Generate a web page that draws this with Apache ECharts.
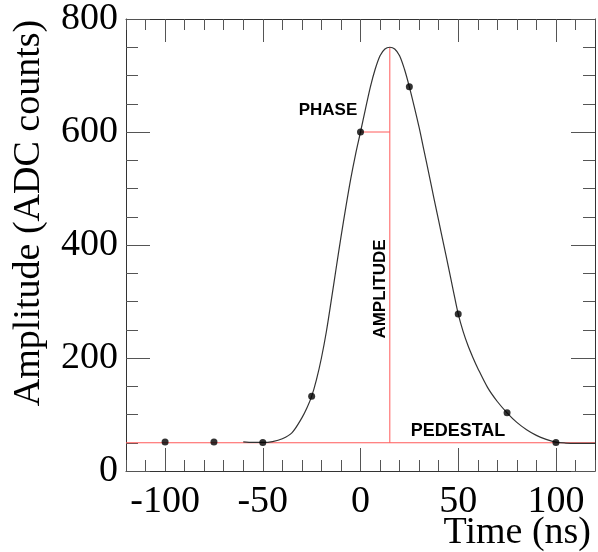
<!DOCTYPE html>
<html>
<head>
<meta charset="utf-8">
<script src="https://cdn.jsdelivr.net/npm/echarts@6/dist/echarts.min.js"></script>
<style>
html,body{margin:0;padding:0;background:#fff;}
#chart{width:598px;height:552px;}
</style>
</head>
<body>
<div id="chart"></div>
<script>
// ---- data ----
const xMajorTicks = [-100, -50, 0, 50, 100];
const xMinorTicks = [-120,-110,-100,-90,-80,-70,-60,-50,-40,-30,-20,-10,0,10,20,30,40,50,60,70,80,90,100,110,120];
const yMajorTicks = [0, 200, 400, 600, 800];
const yMinorTicks = [0,50,100,150,200,250,300,350,400,450,500,550,600,650,700,750,800];

const sampleTimes = [-100, -75, -50, -25, 0, 25, 50, 75, 100];
const sampleAmps  = [51.5, 51.5, 50.5, 132.5, 600, 680, 278, 103, 50.5];

const fitTimes = [-60,-55,-50,-45,-40,-35,-30,-27.5,-25,-22.5,-20,-17.5,-15,-12.5,-10,-7.5,-5,-2.5,0,2.5,5,7.5,10,12.5,15,17.5,20,22.5,25,27.5,30,32.5,35,37.5,40,42.5,45,47.5,50,52.5,55,57.5,60,65,70,75,80,85,90,95,100,105,110,120];
const fitAmps  = [51.5,50.5,50.5,52,57,68,94,111,132,162,200,246,301,358,414,467,517,561,600,640,679,711,735,747,750,747,735,711,680,645,608,567,526,484,443,402,361,319,278,247,222,201,182,148,123,103,86,73,63,56,51,49.5,49,49];

const pedestal = 50;
const peakTime = 15;
const peakAmp = 750;
const phaseTime = 0;
const phaseAmp = 600;

const xMin = -120, xMax = 120, yMin = 0, yMax = 800;

// ---- chart ----
const chart = echarts.init(document.getElementById('chart'));
const frameColor = '#333';
const tickColor = '#555';
const serif = 'Liberation Serif, Times New Roman, serif';
const sans = 'Liberation Sans, Arial, Helvetica, sans-serif';

function xAx(pos, ticks, len, showLine, showLabel) {
  return {
    type: 'value', position: pos, min: xMin, max: xMax,
    axisLine: {show: showLine, onZero: false, lineStyle: {color: frameColor, width: 1}},
    axisTick: {show: true, inside: true, length: len, customValues: ticks, lineStyle: {color: tickColor, width: 1}},
    axisLabel: showLabel ? {show: true, customValues: xMajorTicks, fontFamily: serif, fontSize: 38, color: '#000', margin: 12} : {show: false},
    splitLine: {show: false}
  };
}
function yAx(pos, ticks, len, showLine, showLabel) {
  return {
    type: 'value', position: pos, min: yMin, max: yMax,
    axisLine: {show: showLine, onZero: false, lineStyle: {color: frameColor, width: 1}},
    axisTick: {show: true, inside: true, length: len, customValues: ticks, lineStyle: {color: tickColor, width: 1}},
    axisLabel: showLabel ? {show: true, customValues: yMajorTicks, fontFamily: serif, fontSize: 38, color: '#000', margin: 8, padding: [12, 0, 0, 0]} : {show: false},
    splitLine: {show: false}
  };
}

const option = {
  backgroundColor: '#fff',
  animation: false,
  grid: {left: 126, top: 16, right: 3, bottom: 81, containLabel: false},
  xAxis: [
    xAx('bottom', xMajorTicks, 23, true, true),
    xAx('bottom', xMinorTicks, 11, false, false),
    xAx('top', xMajorTicks, 23, true, false),
    xAx('top', xMinorTicks, 11, false, false)
  ],
  yAxis: [
    yAx('left', yMajorTicks, 24, true, true),
    yAx('left', yMinorTicks, 12, false, false),
    yAx('right', yMajorTicks, 24, true, false),
    yAx('right', yMinorTicks, 12, false, false)
  ],
  series: [
    {
      type: 'line', name: 'pedestal', symbol: 'none', z: 2,
      data: [[xMin, pedestal], [xMax, pedestal]],
      lineStyle: {color: '#ff5a5a', width: 1}
    },
    {
      type: 'line', name: 'amplitude', symbol: 'none', z: 2,
      data: [[peakTime, pedestal], [peakTime, peakAmp]],
      lineStyle: {color: '#ff5a5a', width: 1}
    },
    {
      type: 'line', name: 'phase', symbol: 'none', z: 2,
      data: [[phaseTime, phaseAmp], [peakTime, phaseAmp]],
      lineStyle: {color: '#ff5a5a', width: 1}
    },
    {
      type: 'line', name: 'fit', symbol: 'none', smooth: 0.3, z: 3,
      data: fitTimes.map((t, i) => [t, fitAmps[i]]),
      lineStyle: {color: '#333', width: 1.2}
    },
    {
      type: 'scatter', name: 'samples', symbol: 'circle', symbolSize: 7, z: 4,
      data: sampleTimes.map((t, i) => [t, sampleAmps[i]]),
      itemStyle: {color: '#000'}
    }
  ],
  graphic: [
    {type: 'text', x: 29, y: 213, rotation: Math.PI / 2,
      style: {text: 'Amplitude (ADC counts)', font: '38px ' + serif, fill: '#000', align: 'center', verticalAlign: 'middle'}},
    {type: 'text', x: 591, y: 533,
      style: {text: 'Time (ns)', font: '38px ' + serif, fill: '#000', align: 'right', verticalAlign: 'middle'}},
    {type: 'text', x: 328, y: 110,
      style: {text: 'PHASE', font: 'bold 17px ' + sans, fill: '#000', align: 'center', verticalAlign: 'middle'}},
    {type: 'text', x: 380, y: 289, rotation: Math.PI / 2,
      style: {text: 'AMPLITUDE', font: 'bold 17px ' + sans, fill: '#000', align: 'center', verticalAlign: 'middle'}},
    {type: 'text', x: 458, y: 431,
      style: {text: 'PEDESTAL', font: 'bold 18px ' + sans, fill: '#000', align: 'center', verticalAlign: 'middle'}}
  ]
};
chart.setOption(option);
</script>
</body>
</html>
